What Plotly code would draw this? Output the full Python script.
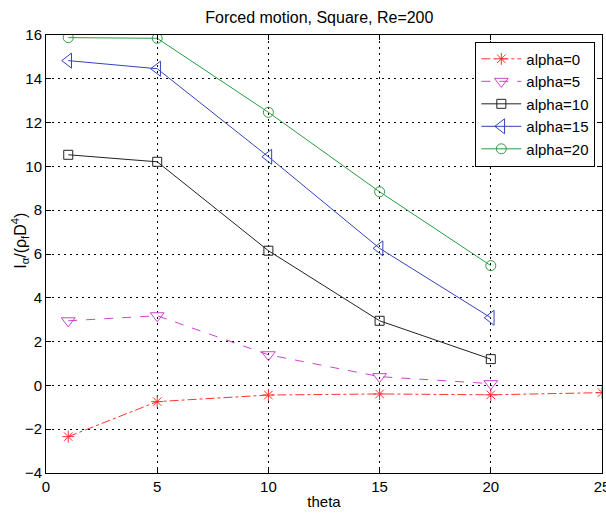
import plotly.graph_objects as go

theta0 = [1, 5, 10, 15, 20, 25]
alpha0 = [-2.34, -0.74, -0.44, -0.39, -0.43, -0.33]
theta = [1, 5, 10, 15, 20]
alpha5 = [2.95, 3.18, 1.4, 0.4, 0.08]
alpha10 = [10.53, 10.21, 6.15, 2.95, 1.2]
alpha15 = [14.83, 14.46, 10.44, 6.26, 3.09]
alpha20 = [15.88, 15.85, 12.47, 8.84, 5.47]

series = [
    ("alpha=0", theta0, alpha0, "#ff3333", "dashdot", "asterisk-open", 10),
    ("alpha=5", theta, alpha5, "#cc44cc", "dash", "triangle-down-open", 12),
    ("alpha=10", theta, alpha10, "#222222", "solid", "square-open", 9),
    ("alpha=15", theta, alpha15, "#3344bb", "solid", "triangle-left-open", 13),
    ("alpha=20", theta, alpha20, "#2e9a44", "solid", "circle-open", 10),
]

fig = go.Figure()
for name, xs, ys, col, dash, sym, sz in series:
    fig.add_trace(go.Scatter(
        x=xs, y=ys, name=name, mode="lines+markers",
        line=dict(color=col, width=1, dash=dash),
        marker=dict(symbol=sym, size=sz, color=col, line=dict(color=col, width=1)),
    ))

axis_common = dict(
    showgrid=True, gridcolor="black", gridwidth=1, griddash="2px,4px",
    showline=True, linecolor="black", linewidth=1, mirror="ticks",
    ticks="inside", ticklen=5, tickcolor="black",
    zeroline=False, tickfont=dict(size=15, color="black"),
    ticklabeloverflow="allow", automargin=False,
)

fig.update_layout(
    width=606, height=517,
    margin=dict(l=46, r=4, t=35, b=44, autoexpand=False),
    paper_bgcolor="white", plot_bgcolor="white",
    font=dict(family="Liberation Sans, Arial, sans-serif", size=15, color="black"),
    title=dict(text="Forced motion, Square, Re=200", x=0.527, xanchor="center",
               y=0.967, yanchor="middle", font=dict(size=16)),
    xaxis=dict(range=[0, 25], tickvals=[0, 5, 10, 15, 20, 25],
               title=dict(text="theta", standoff=2, font=dict(size=15)), **axis_common),
    yaxis=dict(range=[-4, 16], tickvals=[-4, -2, 0, 2, 4, 6, 8, 10, 12, 14, 16],
               **axis_common),
    annotations=[dict(text="I<sub>α</sub>/(ρ<sub>f</sub>D<sup>4</sup>)",
                      xref="paper", yref="paper", x=-0.047, y=0.53,
                      xanchor="center", yanchor="middle", textangle=-90,
                      showarrow=False, font=dict(size=16))],
    legend=dict(x=0.988, y=0.985, xanchor="right", yanchor="top",
                bgcolor="white", bordercolor="black", borderwidth=1,
                font=dict(size=15), tracegroupgap=0, itemwidth=40),
    showlegend=True,
)

fig.write_html("out.html")
